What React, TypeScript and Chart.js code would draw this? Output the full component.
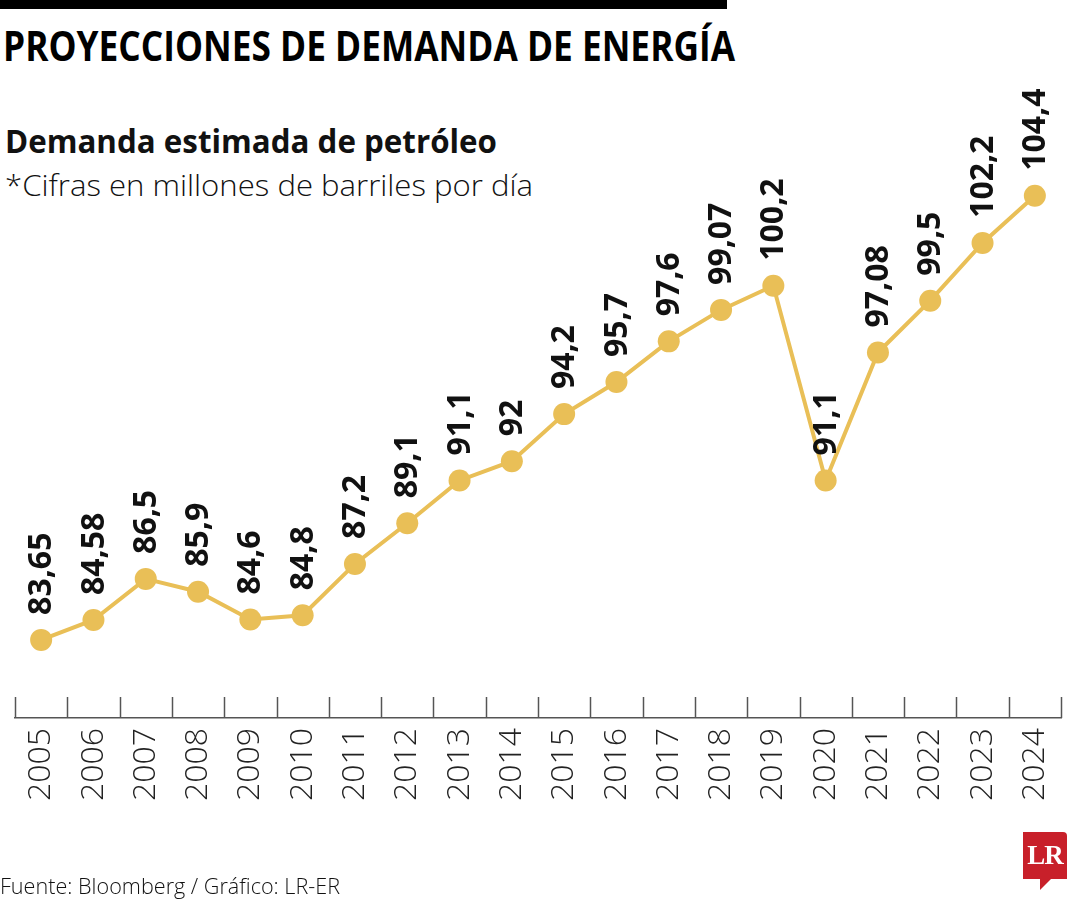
import React, { useEffect, useLayoutEffect, useRef } from "react";
import { Chart, registerables } from "chart.js";

Chart.register(...registerables);

const years = ["2005", "2006", "2007", "2008", "2009", "2010", "2011", "2012", "2013", "2014", "2015", "2016", "2017", "2018", "2019", "2020", "2021", "2022", "2023", "2024"];
const demand = [83.65, 84.58, 86.5, 85.9, 84.6, 84.8, 87.2, 89.1, 91.1, 92, 94.2, 95.7, 97.6, 99.07, 100.2, 91.1, 97.08, 99.5, 102.2, 104.4];
const valueLabels = demand.map((v) => String(v).replace(".", ","));

const GOLD = "#E9BF57";

function FitText({ text, left, top, width, style }: { text: string; left: number; top: number; width: number; style: React.CSSProperties }) {
  const ref = useRef<HTMLSpanElement>(null);
  useLayoutEffect(() => {
    const el = ref.current;
    if (!el) return;
    el.style.transform = "none";
    const w = el.getBoundingClientRect().width;
    if (w > 0) el.style.transform = `scaleX(${width / w})`;
  }, [text, width]);
  return (
    <span
      ref={ref}
      style={{
        position: "absolute",
        left,
        top,
        whiteSpace: "nowrap",
        lineHeight: 1,
        transformOrigin: "left top",
        color: "#111",
        ...style,
      }}
    >
      {text}
    </span>
  );
}

export default function App() {
  const canvasRef = useRef<HTMLCanvasElement>(null);

  useEffect(() => {
    document.body.style.margin = "0";
    const canvas = canvasRef.current;
    if (!canvas) return;

    const tickMarks = {
      id: "tickMarks",
      afterDraw(chart: any) {
        const { ctx, chartArea } = chart;
        const n = years.length;
        const step = (chartArea.right - chartArea.left) / n;
        ctx.save();
        ctx.strokeStyle = "#555";
        ctx.lineWidth = 1.5;
        for (let i = 0; i <= n; i++) {
          const x = Math.round(chartArea.left + i * step) + 0.5;
          ctx.beginPath();
          ctx.moveTo(x, chartArea.bottom - 21);
          ctx.lineTo(x, chartArea.bottom);
          ctx.stroke();
        }
        ctx.restore();
      },
    };

    const valueLabelsPlugin = {
      id: "valueLabels",
      afterDatasetsDraw(chart: any) {
        const { ctx } = chart;
        const meta = chart.getDatasetMeta(0);
        ctx.save();
        ctx.fillStyle = "#111";
        ctx.font = "bold 32px 'Open Sans'";
        ctx.textAlign = "left";
        ctx.textBaseline = "middle";
        meta.data.forEach((pt: any, i: number) => {
          ctx.save();
          ctx.translate(pt.x + 1, pt.y - 25);
          ctx.rotate(-Math.PI / 2);
          ctx.fillText(valueLabels[i], 0, 0);
          ctx.restore();
        });
        ctx.restore();
      },
    };

    const chart = new Chart(canvas, {
      type: "line",
      data: {
        labels: years,
        datasets: [
          {
            data: demand,
            borderColor: GOLD,
            backgroundColor: GOLD,
            borderWidth: 4,
            pointRadius: 11,
            pointHoverRadius: 11,
            pointBackgroundColor: GOLD,
            pointBorderWidth: 0,
            tension: 0,
            clip: false as any,
          },
        ],
      },
      options: {
        responsive: false,
        animation: false,
        layout: { padding: { left: 15, right: 19, top: 76, bottom: 0 } },
        plugins: { legend: { display: false }, tooltip: { enabled: false }, title: { display: false } },
        scales: {
          x: {
            type: "category",
            offset: true,
            grid: { display: false, drawTicks: false },
            border: { display: true, color: "#555", width: 1.5 },
            ticks: {
              minRotation: 90,
              maxRotation: 90,
              padding: 10,
              color: "#222",
              font: { family: "'Open Sans'", size: 32, weight: 300 as any },
            },
            afterFit: (s: any) => {
              s.height = 182;
              s.paddingLeft = 0;
              s.paddingRight = 0;
            },
          },
          y: { display: false, min: 80, max: 110 },
        },
      },
      plugins: [tickMarks, valueLabelsPlugin],
    });

    return () => chart.destroy();
  }, []);

  return (
    <div style={{ position: "relative", width: 1080, height: 900, background: "#fff", overflow: "hidden", fontFamily: "'Open Sans', sans-serif" }}>
      <div style={{ position: "absolute", left: 0, top: 0, width: 727, height: 9, background: "#000" }} />
      <FitText text="PROYECCIONES DE DEMANDA DE ENERGÍA" left={3} top={24} width={732} style={{ fontSize: 42, fontWeight: 700, color: "#000" }} />
      <FitText text="Demanda estimada de petróleo" left={5} top={125} width={492} style={{ fontSize: 32, fontWeight: 700 }} />
      <FitText text="*Cifras en millones de barriles por día" left={5} top={170} width={528} style={{ fontSize: 30, fontWeight: 300 }} />
      <canvas ref={canvasRef} width={1080} height={900} style={{ position: "absolute", left: 0, top: 0 }} />
      <FitText text="Fuente: Bloomberg / Gráfico: LR-ER" left={0} top={874} width={340} style={{ fontSize: 22, fontWeight: 300 }} />
      <div style={{ position: "absolute", left: 1023, top: 832, width: 44, height: 47, background: "#C8202A", borderTopRightRadius: 4, display: "flex", alignItems: "center", justifyContent: "center" }}>
        <span style={{ color: "#fff", fontFamily: "'Liberation Serif', serif", fontWeight: 700, fontSize: 27, letterSpacing: -1 }}>LR</span>
      </div>
      <div style={{ position: "absolute", left: 1040, top: 879, width: 0, height: 0, borderLeft: "0 solid transparent", borderRight: "11px solid transparent", borderTop: "11px solid #C8202A" }} />
    </div>
  );
}
